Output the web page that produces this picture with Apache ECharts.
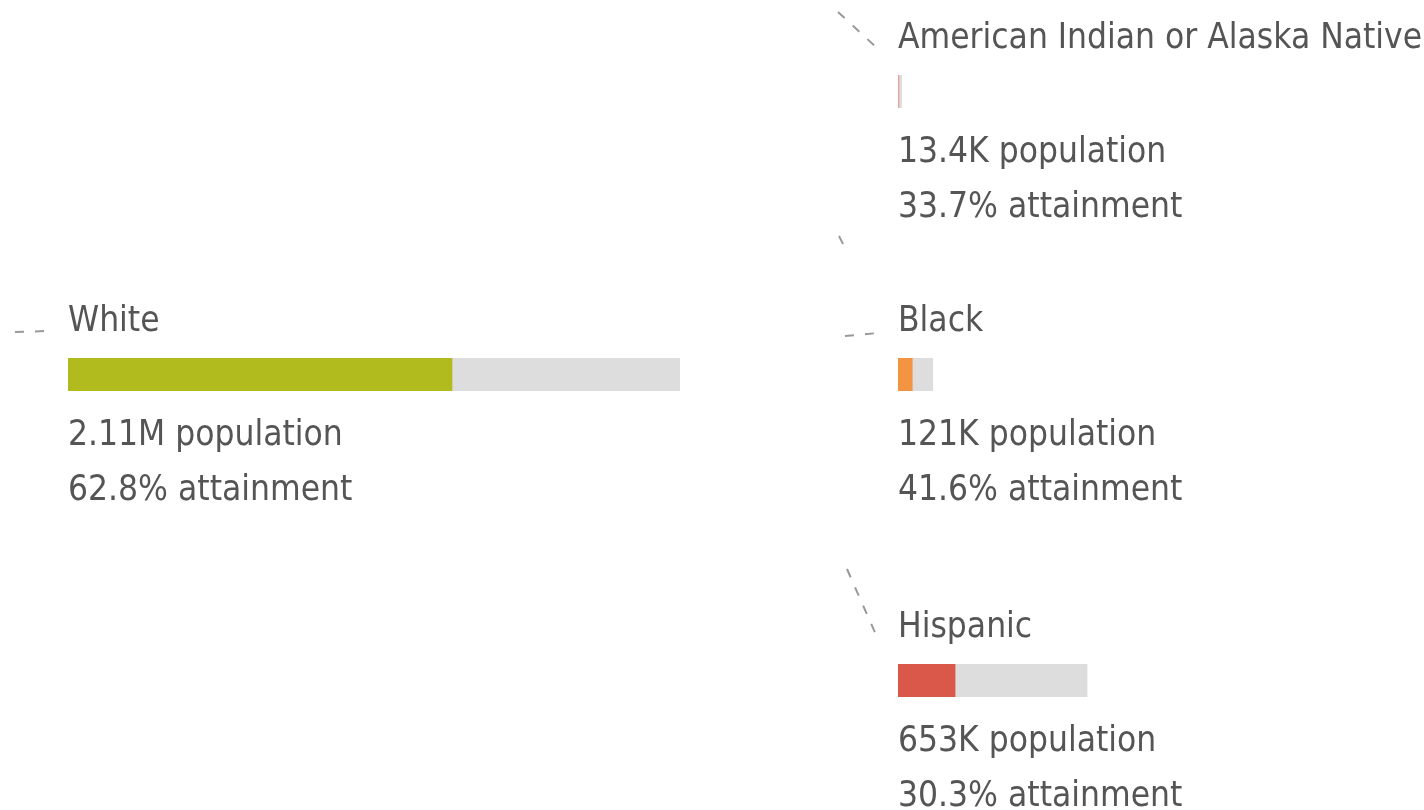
<!DOCTYPE html>
<html>
<head>
<meta charset="utf-8">
<style>
  html, body { margin: 0; padding: 0; background: #fff; }
  #chart { width: 1424px; height: 810px; }
</style>
<script src="https://cdn.jsdelivr.net/npm/echarts@6/dist/echarts.min.js"></script>
</head>
<body>
<div id="chart"></div>
<script>
// data
const groups = ['American Indian or Alaska Native', 'White', 'Black', 'Hispanic'];
const population = [13400, 2110000, 121000, 653000];
const popLabels = ['13.4K', '2.11M', '121K', '653K'];
const attainment = [33.7, 62.8, 41.6, 30.3];
const colors = ['#e9a392', '#b2bb1e', '#f39443', '#d9584a'];

// layout: left edge and top edge of each bar
const boxes = [
  { left: 898, top: 75 },
  { left: 68, top: 358 },
  { left: 898, top: 358 },
  { left: 898, top: 664 }
];
const BAR_H = 33;
const PX_PER = 612 / 2110000; // White bar is 612px wide
const FONT = "'Liberation Sans Narrow', 'DejaVu Sans Condensed', sans-serif";
const FONT_SIZE = 35;
const TEXT = '#555555';

const grids = [], xAxes = [], yAxes = [], series = [];
groups.forEach((name, i) => {
  const width = 1424 - boxes[i].left;
  grids.push({ left: boxes[i].left, top: boxes[i].top, width: width, height: BAR_H });
  xAxes.push({ type: 'value', gridIndex: i, min: 0, max: width / PX_PER, show: false });
  yAxes.push({ type: 'category', gridIndex: i, data: [name], show: false });
  // grey bar = population
  series.push({
    type: 'bar', xAxisIndex: i, yAxisIndex: i,
    barWidth: BAR_H, barGap: '-100%', silent: true,
    itemStyle: { color: '#dddddd' },
    data: [population[i]],
    label: {
      show: true,
      position: [0, BAR_H + 72],
      align: 'left', verticalAlign: 'middle',
      fontFamily: FONT, fontSize: FONT_SIZE, lineHeight: 55, color: TEXT,
      formatter: () => popLabels[i] + ' population\n' + attainment[i].toFixed(1) + '% attainment'
    }
  });
  // coloured part = population share with attainment
  series.push({
    type: 'bar', xAxisIndex: i, yAxisIndex: i,
    barWidth: BAR_H, barGap: '-100%', silent: true,
    itemStyle: { color: colors[i] },
    data: [population[i] * attainment[i] / 100],
    label: {
      show: true,
      position: [0, -36],
      align: 'left', verticalAlign: 'middle',
      fontFamily: FONT, fontSize: FONT_SIZE, color: TEXT,
      formatter: () => name
    }
  });
});

// dashed connector strokes
const dash = { stroke: '#999999', lineWidth: 2, lineDash: [9, 11] };
const connectors = [
  [838, 12, 877, 48],
  [839, 236, 844, 246],
  [15, 332, 48, 331],
  [845, 336, 878, 333],
  [847, 569, 877, 637]
];

const myChart = echarts.init(document.getElementById('chart'));
const option = {
  animation: false,
  grid: grids,
  xAxis: xAxes,
  yAxis: yAxes,
  series: series,
  graphic: connectors.map(c => ({
    type: 'line',
    shape: { x1: c[0], y1: c[1], x2: c[2], y2: c[3] },
    style: dash,
    silent: true
  }))
};
myChart.setOption(option);
</script>
</body>
</html>
